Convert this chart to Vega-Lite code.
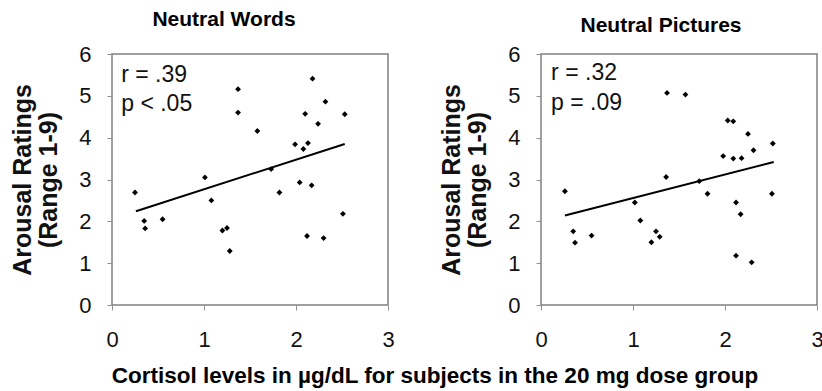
{
  "$schema": "https://vega.github.io/schema/vega-lite/v6.json",
  "padding": {"left": 10, "top": 8, "right": 0, "bottom": 0},
  "background": "white",
  "config": {
    "font": "Liberation Sans",
    "view": {"stroke": "#808080", "strokeWidth": 1.5},
    "axis": {"grid": false, "domain": false, "tickColor": "#909090", "tickSize": 5, "labelColor": "#111", "labelFontSize": 22, "labelFont": "Liberation Sans", "labelFlush": false, "titleColor": "#111", "titleFont": "Liberation Sans"},
    "title": {"font": "Liberation Sans", "fontSize": 21, "fontWeight": "bold", "color": "#000"}
  },
  "datasets": {
    "pts": [
      {"panel": "Words", "x": 0.25, "y": 2.69}, {"panel": "Words", "x": 0.35, "y": 2.01}, {"panel": "Words", "x": 0.36, "y": 1.83},
      {"panel": "Words", "x": 0.55, "y": 2.05}, {"panel": "Words", "x": 1.01, "y": 3.05}, {"panel": "Words", "x": 1.08, "y": 2.5},
      {"panel": "Words", "x": 1.2, "y": 1.78}, {"panel": "Words", "x": 1.25, "y": 1.84}, {"panel": "Words", "x": 1.28, "y": 1.29},
      {"panel": "Words", "x": 1.37, "y": 5.16}, {"panel": "Words", "x": 1.37, "y": 4.6}, {"panel": "Words", "x": 1.58, "y": 4.16},
      {"panel": "Words", "x": 1.73, "y": 3.25}, {"panel": "Words", "x": 1.82, "y": 2.69}, {"panel": "Words", "x": 1.99, "y": 3.84},
      {"panel": "Words", "x": 2.04, "y": 2.93}, {"panel": "Words", "x": 2.08, "y": 3.73}, {"panel": "Words", "x": 2.1, "y": 4.57},
      {"panel": "Words", "x": 2.13, "y": 3.87}, {"panel": "Words", "x": 2.12, "y": 1.65}, {"panel": "Words", "x": 2.17, "y": 2.86},
      {"panel": "Words", "x": 2.18, "y": 5.41}, {"panel": "Words", "x": 2.24, "y": 4.33}, {"panel": "Words", "x": 2.3, "y": 1.6},
      {"panel": "Words", "x": 2.32, "y": 4.86}, {"panel": "Words", "x": 2.53, "y": 4.56}, {"panel": "Words", "x": 2.51, "y": 2.18},
      {"panel": "Pictures", "x": 0.26, "y": 2.72}, {"panel": "Pictures", "x": 0.35, "y": 1.76}, {"panel": "Pictures", "x": 0.37, "y": 1.49},
      {"panel": "Pictures", "x": 0.55, "y": 1.66}, {"panel": "Pictures", "x": 1.02, "y": 2.45}, {"panel": "Pictures", "x": 1.08, "y": 2.02},
      {"panel": "Pictures", "x": 1.2, "y": 1.5}, {"panel": "Pictures", "x": 1.25, "y": 1.76}, {"panel": "Pictures", "x": 1.29, "y": 1.63},
      {"panel": "Pictures", "x": 1.36, "y": 3.06}, {"panel": "Pictures", "x": 1.37, "y": 5.07}, {"panel": "Pictures", "x": 1.57, "y": 5.03},
      {"panel": "Pictures", "x": 1.72, "y": 2.96}, {"panel": "Pictures", "x": 1.81, "y": 2.66}, {"panel": "Pictures", "x": 1.98, "y": 3.56},
      {"panel": "Pictures", "x": 2.03, "y": 4.41}, {"panel": "Pictures", "x": 2.09, "y": 4.39}, {"panel": "Pictures", "x": 2.09, "y": 3.5},
      {"panel": "Pictures", "x": 2.12, "y": 2.45}, {"panel": "Pictures", "x": 2.12, "y": 1.18}, {"panel": "Pictures", "x": 2.17, "y": 2.17},
      {"panel": "Pictures", "x": 2.18, "y": 3.51}, {"panel": "Pictures", "x": 2.25, "y": 4.09}, {"panel": "Pictures", "x": 2.29, "y": 1.02},
      {"panel": "Pictures", "x": 2.31, "y": 3.7}, {"panel": "Pictures", "x": 2.51, "y": 2.66}, {"panel": "Pictures", "x": 2.52, "y": 3.86}
    ],
    "fits": [
      {"panel": "Words", "x": 0.26, "y": 2.24}, {"panel": "Words", "x": 2.53, "y": 3.85},
      {"panel": "Pictures", "x": 0.26, "y": 2.14}, {"panel": "Pictures", "x": 2.53, "y": 3.42}
    ],
    "stats": [
      {"panel": "Words", "x": 0.1, "y": 5.5, "label": "r = .39"}, {"panel": "Words", "x": 0.1, "y": 4.8, "label": "p < .05"},
      {"panel": "Pictures", "x": 0.11, "y": 5.54, "label": "r = .32"}, {"panel": "Pictures", "x": 0.11, "y": 4.82, "label": "p = .09"}
    ]
  },
  "title": {"text": "Cortisol levels in µg/dL for subjects in the 20 mg dose group", "orient": "bottom", "anchor": "middle", "fontSize": 22.5, "offset": 14, "dx": 18},
  "spacing": 44,
  "hconcat": [
    {
      "width": 276, "height": 251,
      "title": {"text": "Neutral Words", "frame": "group", "anchor": "middle", "dx": -26, "offset": 13},
      "encoding": {
        "x": {"field": "x", "type": "quantitative", "scale": {"domain": [0, 3], "nice": false, "zero": false}, "axis": {"values": [0, 1, 2, 3], "format": "d", "title": null, "labelPadding": 19}},
        "y": {"field": "y", "type": "quantitative", "scale": {"domain": [0, 6], "nice": false}, "axis": {"values": [0, 1, 2, 3, 4, 5, 6], "format": "d", "title": ["Arousal Ratings", "(Range 1-9)"], "titleFontSize": 25, "titleFontWeight": "bold", "titleLineHeight": 26, "titlePadding": 17, "labelPadding": 16}}
      },
      "layer": [
        {"data": {"name": "pts"}, "transform": [{"filter": "datum.panel === 'Words'"}],
         "mark": {"type": "point", "shape": "diamond", "filled": true, "color": "#000", "size": 34, "opacity": 1}},
        {"data": {"name": "fits"}, "transform": [{"filter": "datum.panel === 'Words'"}],
         "mark": {"type": "line", "color": "#000", "strokeWidth": 2}},
        {"data": {"name": "stats"}, "transform": [{"filter": "datum.panel === 'Words'"}],
         "mark": {"type": "text", "align": "left", "baseline": "middle", "fontSize": 23, "color": "#111"},
         "encoding": {"text": {"field": "label"}}}
      ]
    },
    {
      "width": 276, "height": 251,
      "title": {"text": "Neutral Pictures", "frame": "group", "anchor": "middle", "dx": -18, "offset": 7},
      "encoding": {
        "x": {"field": "x", "type": "quantitative", "scale": {"domain": [0, 3], "nice": false, "zero": false}, "axis": {"values": [0, 1, 2, 3], "format": "d", "title": null, "labelPadding": 19}},
        "y": {"field": "y", "type": "quantitative", "scale": {"domain": [0, 6], "nice": false}, "axis": {"values": [0, 1, 2, 3, 4, 5, 6], "format": "d", "title": ["Arousal Ratings", "(Range 1-9)"], "titleFontSize": 25, "titleFontWeight": "bold", "titleLineHeight": 26, "titlePadding": 17, "labelPadding": 16}}
      },
      "layer": [
        {"data": {"name": "pts"}, "transform": [{"filter": "datum.panel === 'Pictures'"}],
         "mark": {"type": "point", "shape": "diamond", "filled": true, "color": "#000", "size": 34, "opacity": 1}},
        {"data": {"name": "fits"}, "transform": [{"filter": "datum.panel === 'Pictures'"}],
         "mark": {"type": "line", "color": "#000", "strokeWidth": 2}},
        {"data": {"name": "stats"}, "transform": [{"filter": "datum.panel === 'Pictures'"}],
         "mark": {"type": "text", "align": "left", "baseline": "middle", "fontSize": 23, "color": "#111"},
         "encoding": {"text": {"field": "label"}}}
      ]
    }
  ]
}
